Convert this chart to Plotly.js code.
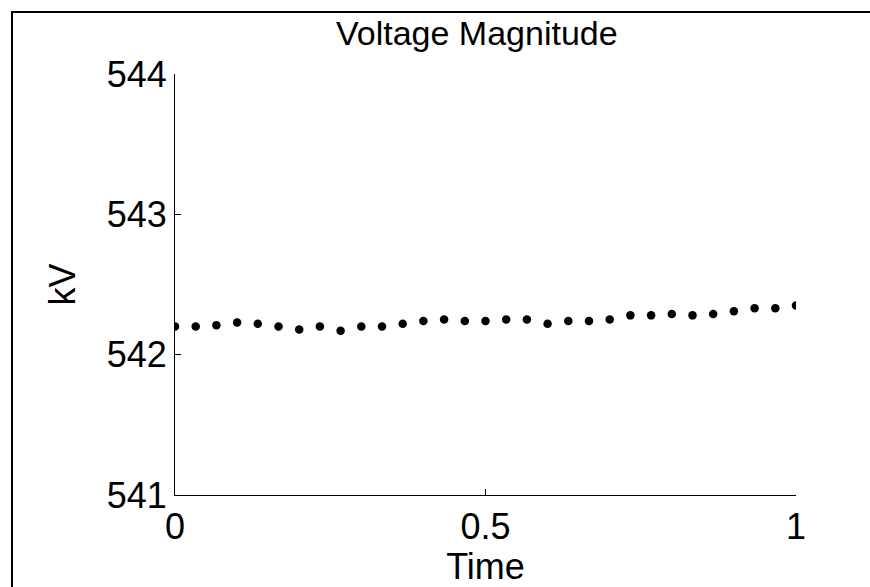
<!DOCTYPE html>
<html>
<head>
<meta charset="utf-8">
<script src="https://cdn.plot.ly/plotly-3.0.1.min.js"></script>
<style>
  html, body { margin: 0; padding: 0; background: #fff; }
  #chart { width: 870px; height: 587px; }
</style>
</head>
<body>
<div id="chart"></div>
<script>
// Time samples (31 points, step 1/30)
const timeValues = [0, 1/30, 2/30, 3/30, 4/30, 5/30, 6/30, 7/30, 8/30, 9/30,
  10/30, 11/30, 12/30, 13/30, 14/30, 15/30, 16/30, 17/30, 18/30, 19/30,
  20/30, 21/30, 22/30, 23/30, 24/30, 25/30, 26/30, 27/30, 28/30, 29/30, 1];
// Voltage magnitude in kV
const voltageKV = [542.20, 542.20, 542.21, 542.23, 542.22, 542.20, 542.18, 542.20, 542.17, 542.20,
  542.20, 542.22, 542.24, 542.25, 542.24, 542.24, 542.25, 542.25, 542.22, 542.24,
  542.24, 542.25, 542.28, 542.28, 542.29, 542.28, 542.29, 542.31, 542.33, 542.33, 542.35];
const xTickValues = [0, 0.5, 1];
const xTickLabels = ['0', '0.5', '1'];
const yTickValues = [541, 542, 543, 544];
const yTickLabels = ['541', '542', '543', '544'];

const fontFamily = 'Liberation Sans, Arial, Helvetica, sans-serif';

const trace = {
  x: timeValues,
  y: voltageKV,
  type: 'scatter',
  mode: 'markers',
  marker: { color: '#000', size: 8.5 },
  hoverinfo: 'skip'
};

const layout = {
  width: 870,
  height: 587,
  margin: { l: 175, r: 74, t: 74, b: 92, pad: 0 },
  paper_bgcolor: '#fff',
  plot_bgcolor: '#fff',
  showlegend: false,
  font: { family: fontFamily, color: '#000', size: 36 },
  title: {
    text: 'Voltage Magnitude',
    font: { family: fontFamily, size: 34, color: '#000' },
    xref: 'paper', x: 0.486, xanchor: 'center',
    yref: 'container', y: 1 - 33/587, yanchor: 'middle'
  },
  xaxis: {
    range: [0, 1],
    tickvals: xTickValues,
    ticktext: xTickLabels,
    ticks: 'inside', ticklen: 6, tickwidth: 1, tickcolor: '#000',
    showline: true, linecolor: '#000', linewidth: 1,
    showgrid: false, zeroline: false,
    tickfont: { family: fontFamily, size: 36, color: '#000' },
    title: { text: 'Time', font: { family: fontFamily, size: 36, color: '#000' }, standoff: 8 },
    fixedrange: true
  },
  yaxis: {
    range: [541, 544],
    tickvals: yTickValues,
    ticktext: yTickLabels,
    ticks: 'inside', ticklen: 6, tickwidth: 1, tickcolor: '#000',
    showline: true, linecolor: '#000', linewidth: 1,
    showgrid: false, zeroline: false,
    tickfont: { family: fontFamily, size: 36, color: '#000' },
    title: { text: 'kV', font: { family: fontFamily, size: 36, color: '#000' }, standoff: 20 },
    fixedrange: true
  },
  shapes: [{
    type: 'rect', xref: 'paper', yref: 'paper',
    x0: (12 - 175) / 621, x1: 1.3,
    y0: -0.4, y1: (495 - 12) / 421,
    line: { color: '#000', width: 2 },
    fillcolor: 'rgba(0,0,0,0)',
    layer: 'below'
  }]
};

Plotly.newPlot('chart', [trace], layout, { displayModeBar: false, staticPlot: true });
</script>
</body>
</html>
